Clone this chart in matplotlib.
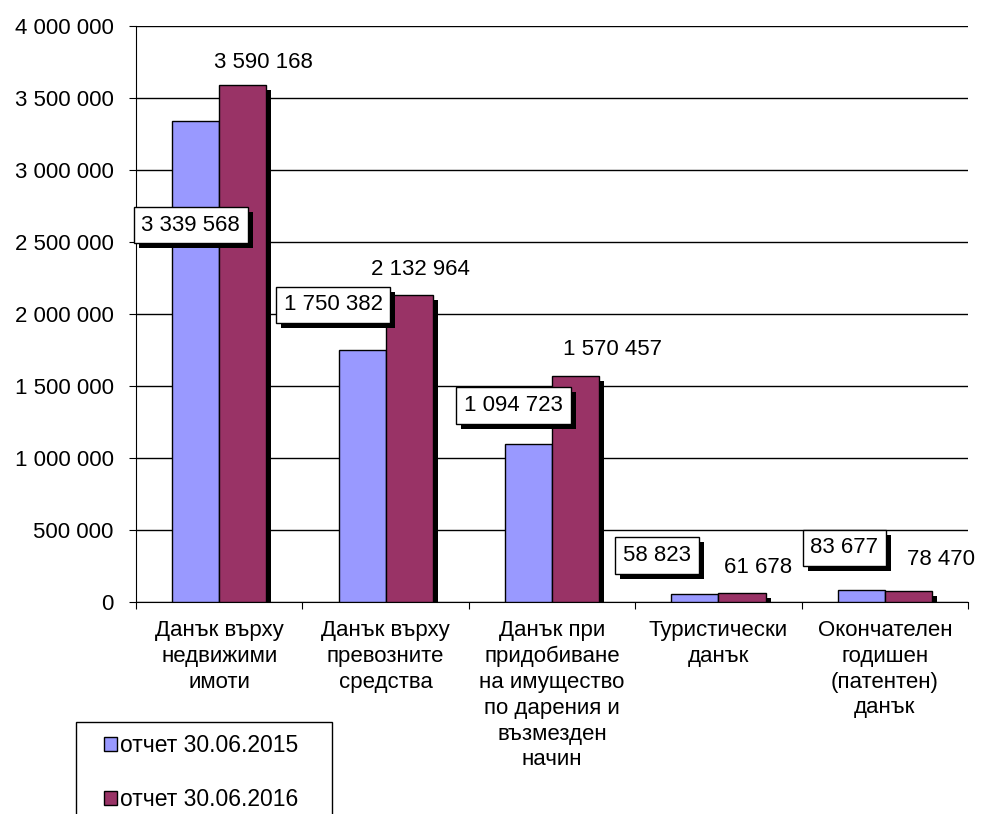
import matplotlib
matplotlib.use("Agg")
import matplotlib.pyplot as plt
import matplotlib.patheffects as pe
from matplotlib.patches import Rectangle
import numpy as np

plt.rcParams['font.family'] = ['Liberation Sans', 'DejaVu Sans']

categories = ["Данък върху\nнедвижими\nимоти",
              "Данък върху\nпревозните\nсредства",
              "Данък при\nпридобиване\nна имущество\nпо дарения и\nвъзмезден\nначин",
              "Туристически\nданък",
              "Окончателен\nгодишен\n(патентен)\nданък"]
v2015 = [3339568, 1750382, 1094723, 58823, 83677]
v2016 = [3590168, 2132964, 1570457, 61678, 78470]
series = ["отчет 30.06.2015", "отчет 30.06.2016"]

# label offsets from bar top, in pixels (dragged by hand in the original)
off2015 = [(-5, -104), (-29, 45), (-15, 39), (-38, 38), (-17, 42)]
off2016 = [(21, 23), (11, 25), (37, 26), (16, 26), (33, 31)]

def fmt(v):
    return "{:,}".format(v).replace(",", " ")

fs = 16
fig = plt.figure(figsize=(9.87, 8.14), dpi=100)
ax = fig.add_axes([0.1378, 0.2604, 0.843, 0.7076])

x = np.arange(len(categories))
w = 0.283
shadow = [pe.SimplePatchShadow(offset=(3.6, -3.6), shadow_rgbFace='black', alpha=1), pe.Normal()]
b1 = ax.bar(x - w / 2, v2015, w, color='#9999FF', edgecolor='black', linewidth=1, label=series[0], zorder=3)
b2 = ax.bar(x + w / 2, v2016, w, color='#993366', edgecolor='black', linewidth=1, label=series[1], zorder=3)
for r in list(b1) + list(b2):
    r.set_path_effects(shadow)

for i in range(len(categories)):
    t = ax.annotate(fmt(v2015[i]), (x[i] - w / 2, v2015[i]), xytext=off2015[i],
                    textcoords='offset pixels', ha='center', va='center', fontsize=fs, zorder=5,
                    bbox=dict(boxstyle='square,pad=0.35', fc='white', ec='black', lw=1))
    t.get_bbox_patch().set_path_effects(shadow)
    ax.annotate(fmt(v2016[i]), (x[i] + w / 2, v2016[i]), xytext=off2016[i],
                textcoords='offset pixels', ha='center', va='center', fontsize=fs, zorder=5)

ax.set_xlim(-0.5, len(categories) - 0.5)
ax.set_ylim(0, 4000000)
yt = np.arange(0, 4000001, 500000)
ax.set_yticks(yt)
ax.set_yticklabels([fmt(v) for v in yt], fontsize=fs)
ax.yaxis.grid(True, color='black', linewidth=1)
ax.set_axisbelow(True)
ax.set_xticks(np.arange(-0.5, len(categories), 1))
ax.set_xticklabels([])
ax.set_xticks(x, minor=True)
ax.set_xticklabels(categories, minor=True, fontsize=fs, linespacing=1.3, va='top')
ax.tick_params(axis='x', which='minor', length=0, pad=13)
ax.tick_params(axis='x', which='major', length=5, direction='out')
ax.tick_params(axis='y', length=5, direction='out', pad=11)
for s in ['top', 'right']:
    ax.spines[s].set_visible(False)

# legend box runs off the bottom edge of the picture
fig.patches.append(Rectangle((76 / 987, -0.02), 256 / 987, 92 / 814 + 0.02,
                             transform=fig.transFigure, fill=False, ec='black', lw=1))
leg = fig.legend(loc='upper left', bbox_to_anchor=(104 / 987, 1 - 734 / 814), fontsize=16.5,
                 frameon=False, handlelength=0.55, handleheight=0.55, handletextpad=0.15,
                 labelspacing=1.35, borderpad=0, borderaxespad=0)
for h in leg.legend_handles:
    h.set_path_effects([])

fig.savefig("out.png", dpi=100)
